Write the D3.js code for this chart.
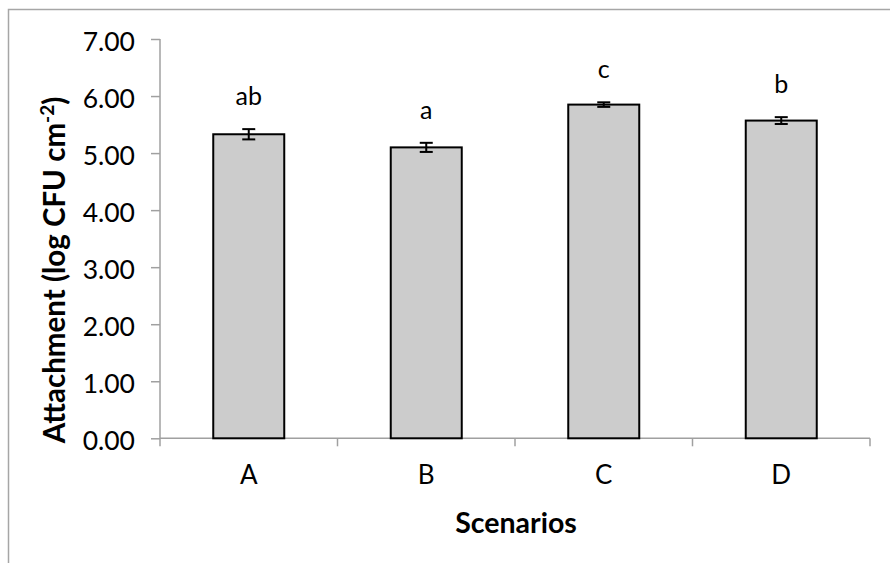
<!DOCTYPE html>
<html>
<head>
<meta charset="utf-8">
<script src="https://cdn.jsdelivr.net/npm/d3@7"></script>
<style>
  html, body { margin: 0; padding: 0; background: #fff; }
  svg { display: block; font-family: Lato, "Open Sans", sans-serif; }
</style>
</head>
<body>
<svg id="chart" width="890" height="563"></svg>
<script>
// Attachment per scenario (log CFU cm^-2), with standard errors and significance letters
const scenarios = ["A", "B", "C", "D"];
const means = [5.33, 5.10, 5.85, 5.57];
const errors = [0.09, 0.08, 0.04, 0.06];
const letters = ["ab", "a", "c", "b"];
const yTicks = [0, 1, 2, 3, 4, 5, 6, 7];

const svg = d3.select("#chart");
const x0 = 160, x1 = 870;
const yTop = 39, yBottom = 438.3;

// outer chart frame
svg.append("rect")
  .attr("x", 8.5).attr("y", 9.5)
  .attr("width", 1000).attr("height", 1000)
  .attr("fill", "none").attr("stroke", "#a6a6a6").attr("stroke-width", 1.5);

const x = d3.scaleBand().domain(scenarios).range([x0, x1])
  .paddingInner(0.6).paddingOuter(0.3);
const y = d3.scaleLinear().domain([0, 7]).range([yBottom, yTop]);

const axisColor = "#a0a0a0";

// y axis
const yAxis = svg.append("g")
  .attr("transform", `translate(${x0},0)`)
  .call(d3.axisLeft(y).tickValues(yTicks).tickSize(9).tickPadding(16)
    .tickFormat(d3.format(".2f")));
yAxis.select(".domain").attr("stroke", axisColor).attr("stroke-width", 1.5)
  .attr("d", `M0,${yTop}V${yBottom + 8}`);
yAxis.selectAll(".tick line").attr("stroke", axisColor).attr("stroke-width", 1.5);
yAxis.selectAll(".tick text")
  .attr("font-size", 26.5).attr("fill", "#000")
  .attr("font-family", "Lato, sans-serif")
  .attr("dy", "0.42em");

// x axis with ticks at category boundaries
const xg = svg.append("g");
xg.append("line")
  .attr("x1", x0).attr("x2", x1).attr("y1", yBottom).attr("y2", yBottom)
  .attr("stroke", axisColor).attr("stroke-width", 1.5);
const step = x.step();
const bounds = d3.range(scenarios.length + 1).map(i => x(scenarios[0]) - x.paddingOuter() * step + i * step);
xg.selectAll("line.tk").data(bounds.slice(1)).join("line")
  .attr("class", "tk")
  .attr("x1", d => d).attr("x2", d => d)
  .attr("y1", yBottom).attr("y2", yBottom + 8)
  .attr("stroke", axisColor).attr("stroke-width", 1.5);
xg.selectAll("text.cat").data(scenarios).join("text")
  .attr("class", "cat")
  .attr("x", d => x(d) + x.bandwidth() / 2)
  .attr("y", 484)
  .attr("text-anchor", "middle")
  .attr("font-size", 26)
  .text(d => d);

// bars
svg.selectAll("rect.bar").data(scenarios).join("rect")
  .attr("class", "bar")
  .attr("x", d => x(d))
  .attr("y", (d, i) => y(means[i]))
  .attr("width", x.bandwidth())
  .attr("height", (d, i) => y(0) - y(means[i]))
  .attr("fill", "#cccccc")
  .attr("stroke", "#000")
  .attr("stroke-width", 2);

// error bars
const cap = 6.5;
const eb = svg.selectAll("g.err").data(scenarios).join("g").attr("class", "err")
  .attr("stroke", "#000").attr("stroke-width", 2);
eb.append("line")
  .attr("x1", d => x(d) + x.bandwidth() / 2).attr("x2", d => x(d) + x.bandwidth() / 2)
  .attr("y1", (d, i) => y(means[i] + errors[i])).attr("y2", (d, i) => y(means[i] - errors[i]));
eb.append("line")
  .attr("x1", d => x(d) + x.bandwidth() / 2 - cap).attr("x2", d => x(d) + x.bandwidth() / 2 + cap)
  .attr("y1", (d, i) => y(means[i] + errors[i])).attr("y2", (d, i) => y(means[i] + errors[i]));
eb.append("line")
  .attr("x1", d => x(d) + x.bandwidth() / 2 - cap).attr("x2", d => x(d) + x.bandwidth() / 2 + cap)
  .attr("y1", (d, i) => y(means[i] - errors[i])).attr("y2", (d, i) => y(means[i] - errors[i]));

// significance letters
svg.selectAll("text.sig").data(scenarios).join("text")
  .attr("class", "sig")
  .attr("x", d => x(d) + x.bandwidth() / 2)
  .attr("y", (d, i) => y(means[i] + errors[i]) - 24)
  .attr("text-anchor", "middle")
  .attr("font-size", 25)
  .text((d, i) => letters[i]);

// axis titles
svg.append("text")
  .attr("x", 516).attr("y", 533)
  .attr("text-anchor", "middle")
  .attr("font-size", 28.5).attr("font-weight", "bold")
  .text("Scenarios");

const yt = svg.append("text")
  .attr("transform", "translate(65,270) rotate(-90)")
  .attr("text-anchor", "middle")
  .attr("font-size", 29.5).attr("font-weight", "bold");
yt.append("tspan").text("Attachment  (log CFU cm");
yt.append("tspan").attr("font-size", 19).attr("dy", -11).text("-2");
yt.append("tspan").attr("dy", 11).text(")");
</script>
</body>
</html>
